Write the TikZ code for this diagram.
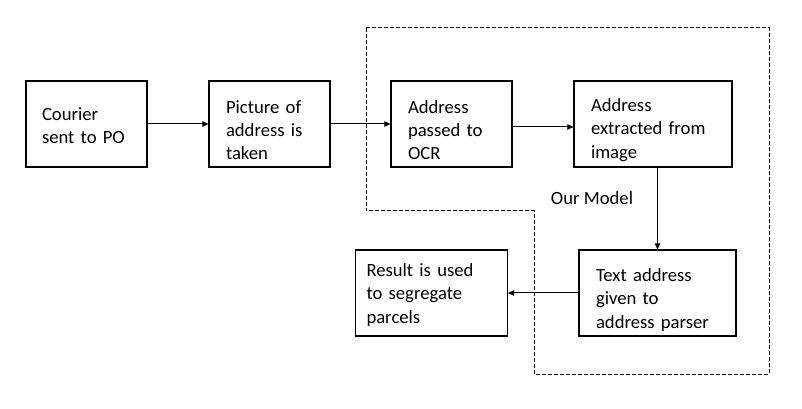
\documentclass[tikz,border=0pt]{standalone}
\usepackage{fontspec}
\setmainfont{Carlito}
\usetikzlibrary{arrows.meta}
\newcommand\downby[2]{\parbox{\hsize}{\vspace*{#1\dimexpr1.5pt\relax}\raggedright #2}}
\begin{document}
\begin{tikzpicture}[x=0.75pt,y=-0.75pt,
  box/.style={draw,line width=0.8pt,rectangle,align=left,minimum height=86*0.75pt,
    inner ysep=0pt,font=\fontsize{14}{17.4}\selectfont},
  conn/.style={line width=0.75pt,-{Triangle[length=4.5pt,width=4pt]}},
  region/.style={line width=0.75pt,dash pattern=on 3pt off 1.5pt},
  lbl/.style={font=\fontsize{14}{17.25}\selectfont,inner sep=0pt}]
\useasboundingbox (0,0) rectangle (802,409);
\fill[white] (0,0) rectangle (802,409);
\node[box,inner xsep=12pt,text width=89*0.75pt] (b1) at (86.5,124) {\downby{2}{Courier\\sent to PO}};
\node[box,inner xsep=12.75pt,text width=87*0.75pt] (b2) at (269.5,124) {\downby{6}{Picture of\\address is\\taken}};
\node[box,inner xsep=12.75pt,text width=87*0.75pt] (b3) at (451.5,124) {\downby{6}{Address\\passed to\\OCR}};
\node[box,inner xsep=12.75pt,text width=124*0.75pt] (b4) at (653,124) {\downby{6}{Address\\extracted from\\image}};
\node[box,inner xsep=12.75pt,text width=123*0.75pt] (b5) at (657.5,293) {\downby{7}{Text address\\given to\\address parser}};
\node[box,inner xsep=8.25pt,text width=130*0.75pt] (b6) at (431.5,293) {\downby{2}{Result is used\\to segregate\\parcels}};
\node[lbl] (model) at (592,198) {Our Model};
\coordinate (d1) at (366,28);
\coordinate (d2) at (769,28);
\coordinate (d3) at (769,374);
\coordinate (d4) at (534,374);
\coordinate (d5) at (534,211);
\coordinate (d6) at (366,211);
\draw[region] (d1) -- (d2) -- (d3) -- (d4) -- (d5) -- (d6) -- cycle;
\draw[conn] (b1) -- (b2);
\draw[conn] (b2) -- (b3);
\draw[conn] ([yshift=-3*0.75pt]b3.east) -- ([yshift=-3*0.75pt]b4.west);
\draw[conn] (b5.north |- b4.south) -- (b5.north);
\draw[conn] (b5) -- (b6);
\end{tikzpicture}
\end{document}
